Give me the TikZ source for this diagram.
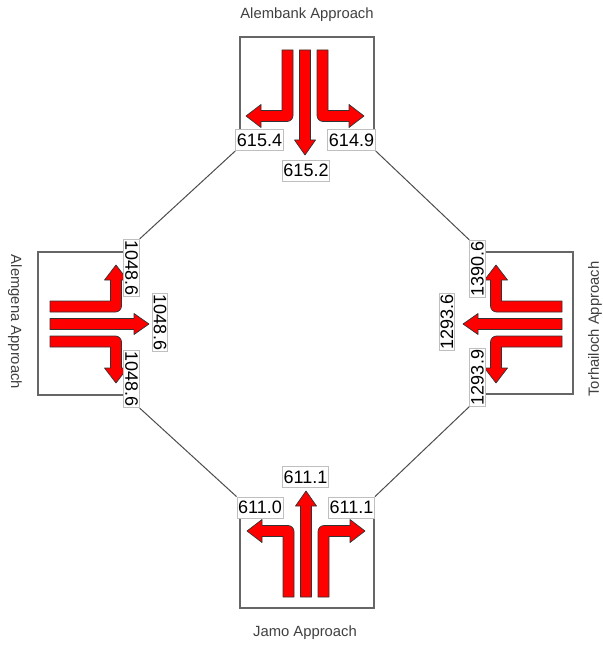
\documentclass[tikz,border=0pt]{standalone}
\usepackage{fontspec}
\setmainfont{Liberation Sans}
\usepackage{tikz}

\tikzset{
  movement/.style={fill=red, draw=black!80, line width=0.35pt, line join=round},
  approachbox/.style={draw=black!60, line width=0.55pt},
  flow/.style={draw=black!25, fill=white, line width=0.4pt, inner xsep=0.6pt, inner ysep=0pt, minimum height=10.5pt, font=\fontsize{9}{10}\selectfont},
  sideflow/.style={flow, minimum height=7.8pt},
  link/.style={draw=black!70, line width=0.5pt},
  approach/.style={text=black!75, font=\fontsize{7.4}{9}\selectfont},
}

\newcommand{\turnarrows}[1]{%
  \filldraw[movement] (-5.5,0) -- (5.5,0) -- (5.5,#1-15) -- (10.5,#1-15) -- (0,#1) -- (-10.5,#1-15) -- (-5.5,#1-15) -- cycle;
  \foreach \s in {1,-1}{
    \begin{scope}[xscale=\s]
      \filldraw[movement] (12,0) -- (23,0) -- (23,60.5) -- (44,60.5) -- (44,54.5) -- (59,66) -- (44,77.5) -- (44,71.5) -- (18,71.5) .. controls (14.7,71.5) and (12,68.8) .. (12,65.5) -- cycle;
    \end{scope}
  }%
}

\begin{document}
\begin{tikzpicture}[x=0.5pt, y=-0.5pt]
  \useasboundingbox (0,0) rectangle (603,646);
  \draw[approachbox] (240,140) -- (240,37) -- (374,37) -- (374,140);
  \draw[approachbox] (240,507) -- (240,608) -- (374,608) -- (374,507);
  \draw[approachbox] (131,252) -- (38,252) -- (38,395) -- (131,395);
  \draw[approachbox] (477,252) -- (573,252) -- (573,394) -- (477,394);
  \begin{scope}[shift={(305,50)}]
    \turnarrows{105}
  \end{scope}
  \begin{scope}[shift={(50,324)}, rotate=90]
    \turnarrows{99}
  \end{scope}
  \begin{scope}[shift={(306,597)}, rotate=180]
    \turnarrows{106}
  \end{scope}
  \begin{scope}[shift={(562,324)}, rotate=-90]
    \turnarrows{99}
  \end{scope}
  \node[flow] (t1) at (259.5,140) {615.4};
  \node[flow] (t2) at (306,170.5) {615.2};
  \node[flow] (t3) at (351.5,140) {614.9};
  \node[flow] (b1) at (260,507.5) {611.0};
  \node[flow] (b2) at (305.5,477) {611.1};
  \node[flow] (b3) at (351.5,507.5) {611.1};
  \node[sideflow, rotate=-90] (l1) at (131.5,268) {1048.6};
  \node[sideflow, rotate=-90] (l2) at (160,322.5) {1048.6};
  \node[sideflow, rotate=-90] (l3) at (131.5,379) {1048.6};
  \node[sideflow, rotate=90] (r1) at (477.5,269) {1390.6};
  \node[sideflow, rotate=90] (r2) at (447,322) {1293.6};
  \node[sideflow, rotate=90] (r3) at (477.5,377.5) {1293.9};
  \draw[link] (t1.south west) -- (l1.north west);
  \draw[link] (t3.south east) -- (r1.north east);
  \draw[link] (l3.north east) -- (b1.north west);
  \draw[link] (r3.north west) -- (b3.north east);
  \node[approach] (ta) at (307,15) {Alembank Approach};
  \node[approach, rotate=-90] (la) at (15,322) {Alemgena Approach};
  \node[approach] (ba) at (305,633) {Jamo Approach};
  \node[approach, rotate=90] (ra) at (595,329) {Torhailoch Approach};
\end{tikzpicture}
\end{document}
